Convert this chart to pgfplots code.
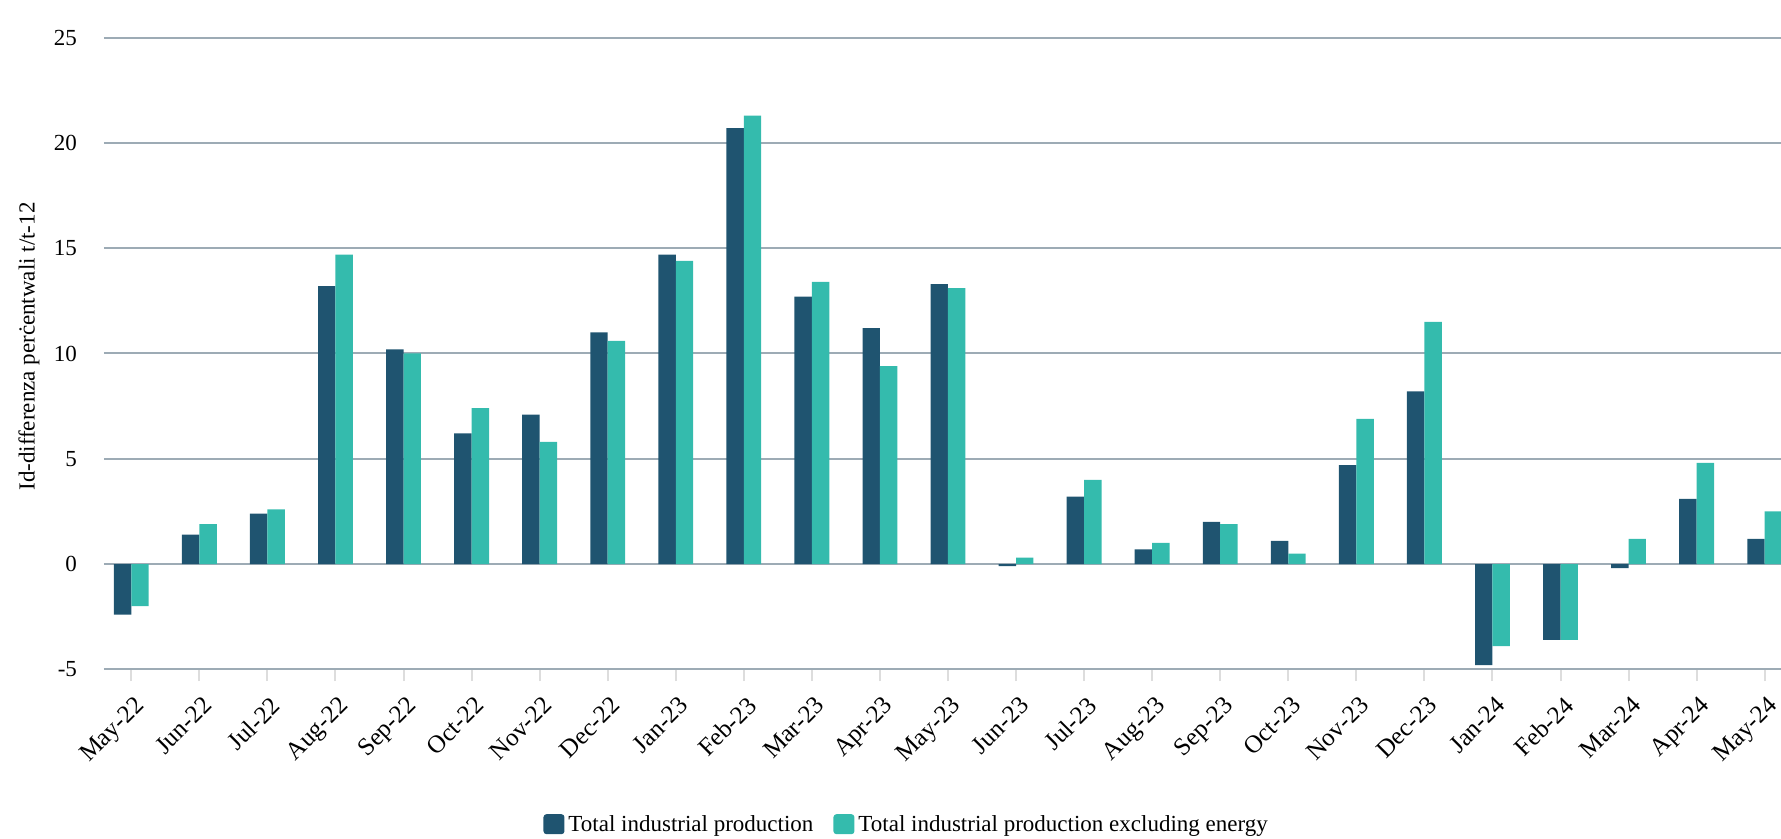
\documentclass[border=0pt]{standalone}
\usepackage{pgfplots}
\pgfplotsset{compat=1.18}
\usepackage{pgfplotstable}
\usepackage{fontspec}
\setmainfont{Liberation Serif}
\definecolor{darkbar}{RGB}{31,84,112}
\definecolor{tealbar}{RGB}{52,187,173}
\definecolor{gridcol}{RGB}{157,171,181}
\definecolor{tickcol}{RGB}{221,221,221}
\pgfplotsset{sqleg/.style={legend image code/.code={\fill[##1, rounded corners=1.5pt] (0pt,-4.6pt) rectangle (10.5pt,5.4pt);}}}
\pgfplotstableread{
idx dark teal
0 -2.4 -2.0
1 1.4 1.9
2 2.4 2.6
3 13.2 14.7
4 10.2 10.0
5 6.2 7.4
6 7.1 5.8
7 11.0 10.6
8 14.7 14.4
9 20.7 21.3
10 12.7 13.4
11 11.2 9.4
12 13.3 13.1
13 -0.1 0.3
14 3.2 4.0
15 0.7 1.0
16 2.0 1.9
17 1.1 0.5
18 4.7 6.9
19 8.2 11.5
20 -4.8 -3.9
21 -3.6 -3.6
22 -0.2 1.2
23 3.1 4.8
24 1.2 2.5
}\datatable
\begin{document}
\begin{tikzpicture}
\begin{axis}[
  name=ax,
  scale only axis,
  width=838.5pt, height=315.8pt,
  xmin=-0.401, xmax=24.24,
  ymin=-5, ymax=25,
  ytick={-5,0,5,10,15,20,25},
  xtick={0,...,24},
  xticklabels={May-22,Jun-22,Jul-22,Aug-22,Sep-22,Oct-22,Nov-22,Dec-22,Jan-23,Feb-23,Mar-23,Apr-23,May-23,Jun-23,Jul-23,Aug-23,Sep-23,Oct-23,Nov-23,Dec-23,Jan-24,Feb-24,Mar-24,Apr-24,May-24},
  axis x line=bottom,
  axis y line=left,
  x axis line style={-, draw=gridcol, line width=1pt},
  y axis line style={draw=none},
  ytick style={draw=none},
  xtick style={draw=tickcol, line width=1pt},
  tick align=outside,
  major tick length=6pt,
  ymajorgrids,
  grid style={draw=gridcol, line width=1pt},
  /pgf/number format/assume math mode=true,
  tick label style={font=\fontsize{11.5}{13.5}\selectfont, text=black},
  yticklabel style={xshift=-4pt},
  xticklabel style={rotate=45, anchor=north east, inner sep=0pt, xshift=-4pt, yshift=-5.5pt, font=\fontsize{12.5}{14.5}\selectfont},
  ylabel={Id-differenza perċentwali t/t-12},
  every axis y label/.style={at={(axis description cs:-0.0447,0.511)}, rotate=90, anchor=center, font=\fontsize{11.5}{13.5}\selectfont},
  legend style={at={(axis description cs:0.4792,-0.2465)}, anchor=center, draw=none, fill=none,
    legend columns=2, font=\fontsize{11.5}{13.5}\selectfont,
    /tikz/every even column/.append style={column sep=8pt},
    legend cell align=left},
  ybar,
  bar width=0.256,
]
\addplot[fill=darkbar, draw=none, bar shift=-0.128, sqleg] table[x=idx, y=dark] {\datatable};
\addlegendentry{Total industrial production}
\addplot[fill=tealbar, draw=none, bar shift=0.128, sqleg] table[x=idx, y=teal] {\datatable};
\addlegendentry{Total industrial production excluding energy}
\end{axis}
\pgfresetboundingbox
\path ([xshift=-52pt,yshift=-84.85pt]ax.south west) rectangle ([yshift=18.85pt]ax.north east);
\end{tikzpicture}
\end{document}
